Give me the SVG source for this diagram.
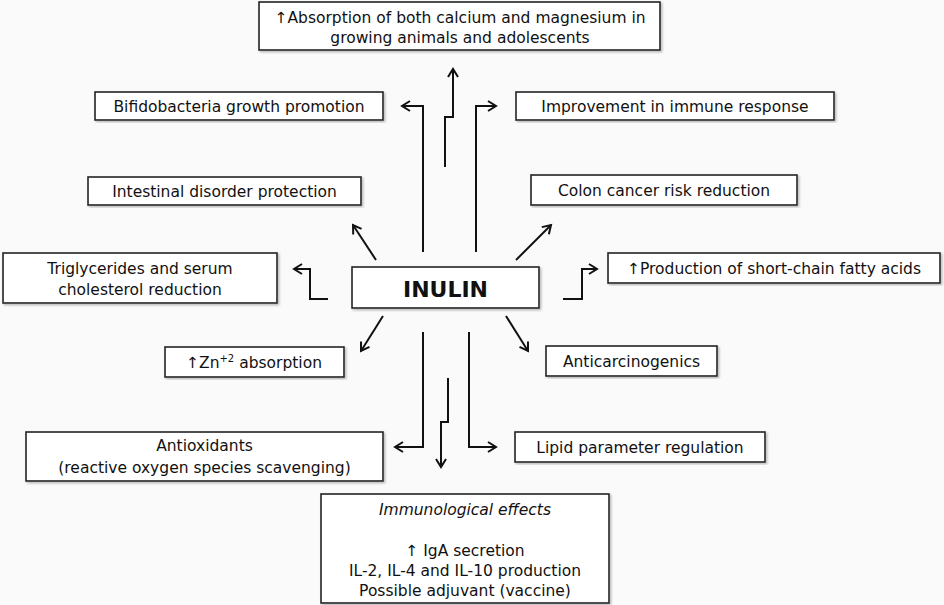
<svg xmlns="http://www.w3.org/2000/svg" width="944" height="605" viewBox="0 0 944 605">
<defs>
<marker id="a" markerWidth="12" markerHeight="12" refX="9" refY="6" orient="auto" markerUnits="userSpaceOnUse"><path d="M1,1 L9,6 L1,11" fill="none" stroke="#111" stroke-width="2"/></marker>
<filter id="s"><feDropShadow dx="1.5" dy="1.5" stdDeviation="1" flood-color="#888" flood-opacity="0.6"/></filter>
</defs>
<style>
rect{fill:#fff;stroke:#222;stroke-width:1.6;filter:url(#s)}
text{font-family:"DejaVu Sans",Verdana,sans-serif;font-size:15.5px;fill:#111;text-anchor:middle}
.up{font-family:"DejaVu Sans",sans-serif;fill:#111}
.c path{fill:none;stroke:#111;stroke-width:2;marker-end:url(#a)}
</style>
<rect width="944" height="605" style="fill:#fafafa;stroke:none;filter:none"/>
<g class="c">
<path d="M445,167 V117 H453 V69"/>
<path d="M423,252 V106 H402"/>
<path d="M476,252 V106 H496"/>
<path d="M376,260 L353,225"/>
<path d="M516,260 L551,225"/>
<path d="M328,299 H310 V269 H294"/>
<path d="M563,299 H582 V269 H597"/>
<path d="M383,316 L361,351"/>
<path d="M506,316 L528,351"/>
<path d="M423,332 V447 H395"/>
<path d="M469,332 V447 H496"/>
<path d="M448,378 V422 H441 V467"/>
</g>
<g id="inulin"><rect x="352" y="267" width="187" height="41"/><text x="445.5" y="297" style="font-size:22px;font-weight:bold">INULIN</text></g>
<g id="n1"><rect x="259" y="2" width="401" height="48"/><text x="460" y="23"><tspan class="up">&#x2191;&#xFE0E;</tspan>Absorption of both calcium and magnesium in</text><text x="460" y="43">growing animals and adolescents</text></g>
<g id="n2"><rect x="95" y="92" width="288" height="28"/><text x="239" y="112">Bifidobacteria growth promotion</text></g>
<g id="n3"><rect x="516" y="92" width="318" height="28"/><text x="675" y="112">Improvement in immune response</text></g>
<g id="n4"><rect x="88" y="177" width="273" height="28"/><text x="224.5" y="197">Intestinal disorder protection</text></g>
<g id="n5"><rect x="531" y="175" width="266" height="30"/><text x="664" y="196">Colon cancer risk reduction</text></g>
<g id="n6"><rect x="3" y="253" width="274" height="50"/><text x="140" y="274">Triglycerides and serum</text><text x="140" y="295">cholesterol reduction</text></g>
<g id="n7"><rect x="608" y="253" width="332" height="30"/><text x="774" y="274"><tspan class="up">&#x2191;&#xFE0E;</tspan>Production of short-chain fatty acids</text></g>
<g id="n8"><rect x="165" y="347" width="179" height="30"/><text x="254" y="368"><tspan class="up">&#x2191;&#xFE0E;</tspan>Zn<tspan dy="-6" style="font-size:10px">+2</tspan><tspan dy="6"> absorption</tspan></text></g>
<g id="n9"><rect x="546" y="346" width="171" height="30"/><text x="631.5" y="367">Anticarcinogenics</text></g>
<g id="n10"><rect x="26" y="432" width="357" height="49"/><text x="204.5" y="451">Antioxidants</text><text x="204.5" y="473">(reactive oxygen species  scavenging)</text></g>
<g id="n11"><rect x="515" y="432" width="250" height="30"/><text x="640" y="453">Lipid parameter regulation</text></g>
<g id="n12"><rect x="321" y="494" width="288" height="109"/><text x="465" y="515" style="font-style:italic">Immunological effects</text><text x="465" y="556"><tspan class="up">&#x2191;&#xFE0E;</tspan> IgA secretion</text><text x="465" y="576">IL-2, IL-4 and IL-10 production</text><text x="465" y="596">Possible adjuvant (vaccine)</text></g>
</svg>
